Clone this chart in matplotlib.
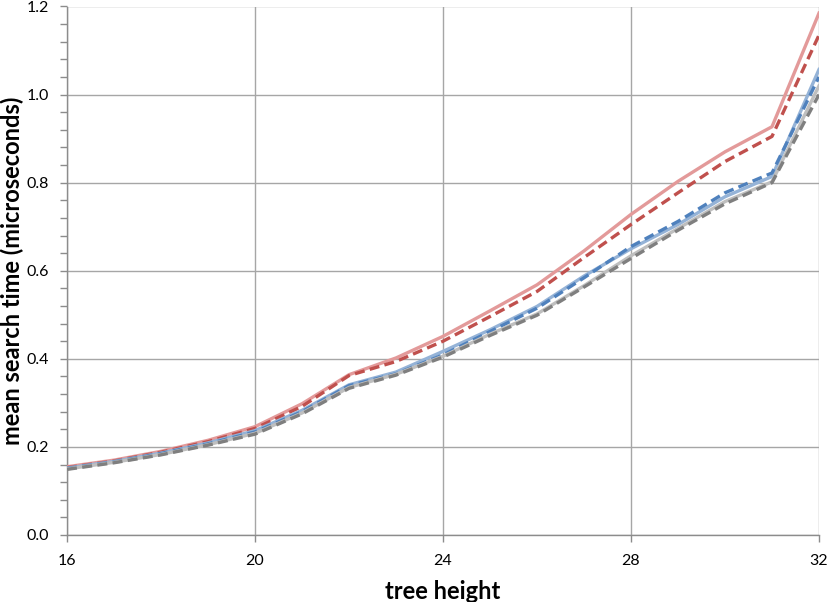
import matplotlib
matplotlib.use("Agg")
import matplotlib.pyplot as plt
from matplotlib.ticker import MultipleLocator, FormatStrFormatter

heights = list(range(16, 33))
red_solid   = [0.155, 0.170, 0.190, 0.215, 0.246, 0.298, 0.364, 0.402, 0.451, 0.509, 0.568, 0.645, 0.728, 0.803, 0.870, 0.927, 1.185]
red_dashed  = [0.153, 0.168, 0.188, 0.212, 0.242, 0.292, 0.362, 0.394, 0.440, 0.496, 0.553, 0.630, 0.705, 0.777, 0.848, 0.905, 1.135]
blue_solid  = [0.152, 0.167, 0.186, 0.209, 0.237, 0.283, 0.341, 0.370, 0.417, 0.466, 0.519, 0.588, 0.650, 0.705, 0.768, 0.814, 1.057]
blue_dashed = [0.151, 0.166, 0.185, 0.207, 0.234, 0.280, 0.339, 0.366, 0.409, 0.462, 0.515, 0.584, 0.655, 0.712, 0.777, 0.822, 1.040]
gray_solid  = [0.150, 0.165, 0.183, 0.205, 0.231, 0.277, 0.335, 0.365, 0.406, 0.456, 0.502, 0.566, 0.634, 0.696, 0.757, 0.802, 1.020]
gray_dashed = [0.149, 0.164, 0.182, 0.204, 0.229, 0.275, 0.333, 0.363, 0.404, 0.453, 0.499, 0.563, 0.628, 0.692, 0.752, 0.800, 1.000]

series = [
    (red_solid,   "#E39A9A", "-"),
    (red_dashed,  "#C0504D", "--"),
    (blue_solid,  "#95B3D7", "-"),
    (blue_dashed, "#4F81BD", "--"),
    (gray_solid,  "#BFBFBF", "-"),
    (gray_dashed, "#7F7F7F", "--"),
]

plt.rcParams['font.family'] = ['Lato', 'DejaVu Sans']

fig = plt.figure(figsize=(8.30, 6.02), dpi=100)
ax = fig.add_axes([67/830, 1 - 535/602, (819-67)/830, (535-6.5)/602])

for vals, col, ls in series:
    ax.plot(heights, vals, color=col, linestyle=ls, linewidth=2.4,
            dashes=(3, 1.6) if ls == "--" else (None, None), zorder=3)

ax.set_xlim(16, 32)
ax.set_ylim(0, 1.2)
ax.xaxis.set_major_locator(MultipleLocator(4))
ax.yaxis.set_major_locator(MultipleLocator(0.2))
ax.yaxis.set_minor_locator(MultipleLocator(0.04))
ax.yaxis.set_major_formatter(FormatStrFormatter('%.1f'))

ax.grid(True, which='major', color='#A6A6A6', linewidth=1.0)
for s in ['top', 'right']:
    ax.spines[s].set_visible(False)
for s in ['left', 'bottom']:
    ax.spines[s].set_color('#8C8C8C')
    ax.spines[s].set_linewidth(1.0)

ax.tick_params(axis='both', which='major', length=5, color='#8C8C8C', labelsize=11.5, width=1)
ax.tick_params(axis='y', which='minor', length=5, color='#8C8C8C', width=1)
ax.tick_params(axis='x', pad=9)
ax.tick_params(axis='y', pad=8)

ax.set_xlabel('tree height', fontsize=17, fontweight='bold', labelpad=8)
ax.set_ylabel('mean search time (microseconds)', fontsize=17, fontweight='bold', labelpad=2)

fig.savefig('out.png', dpi=100)
